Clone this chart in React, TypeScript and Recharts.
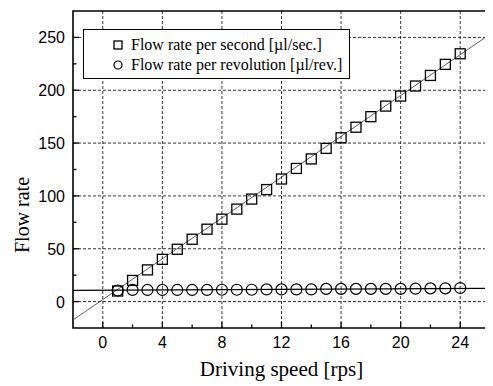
import React from 'react';
import { ScatterChart, Scatter, XAxis, YAxis, CartesianGrid, ReferenceArea } from 'recharts';

const speeds = [1, 2, 3, 4, 5, 6, 7, 8, 9, 10, 11, 12, 13, 14, 15, 16, 17, 18, 19, 20, 21, 22, 23, 24];
const flowPerSecond = [10, 20, 30, 40, 49.5, 59, 68.5, 78, 87.5, 97, 106, 116, 126, 135, 145, 155, 165, 175, 185, 194.5, 204, 214, 224.5, 234.5];
const flowPerRev = [10.5, 11, 11, 11, 11, 11, 11, 11.2, 11.2, 11.2, 11.5, 11.5, 11.5, 11.5, 12, 12, 12, 12, 12, 12, 12.2, 12.5, 12.5, 12.8];
const secFit = [{ x: -2, y: -17.4 }, { x: 26, y: 253 }];
const revFit = [{ x: -2, y: 10.7 }, { x: 26, y: 12.6 }];
const xTicks = [0, 2, 4, 6, 8, 10, 12, 14, 16, 18, 20, 22, 24];
const xLabelTicks = [0, 4, 8, 12, 16, 20, 24];
const yTicks = [0, 25, 50, 75, 100, 125, 150, 175, 200, 225, 250];
const yLabelTicks = [0, 50, 100, 150, 200, 250];
const xDomain = [-2, 26];
const yDomain = [-25, 275];
const legendLabels = ['Flow rate per second [\u00b5l/sec.]', 'Flow rate per revolution [\u00b5l/rev.]'];
const xTitle = 'Driving speed [rps]';
const yTitle = 'Flow rate';

const secData = speeds.map((s, i) => ({ x: s, y: flowPerSecond[i] }));
const revData = speeds.map((s, i) => ({ x: s, y: flowPerRev[i] }));

const SERIF = '"Liberation Serif", "Times New Roman", serif';
const SANS = '"Liberation Sans", Arial, sans-serif';

const XTick = (props: any) => {
  const { x, y, payload } = props;
  const major = xLabelTicks.includes(payload.value);
  return (
    <g>
      <line x1={x} y1={y} x2={x} y2={y - (major ? 6 : 3.5)} stroke="#000" strokeWidth={1.3} />
      {major && (
        <text x={x} y={y + 20} textAnchor="middle" fontFamily={SANS} fontSize={16} fill="#000">
          {payload.value}
        </text>
      )}
    </g>
  );
};

const YTick = (props: any) => {
  const { x, y, payload } = props;
  const major = yLabelTicks.includes(payload.value);
  return (
    <g>
      <line x1={x} y1={y} x2={x + (major ? 6 : 3.5)} y2={y} stroke="#000" strokeWidth={1.3} />
      {major && (
        <text x={x - 8} y={y + 6} textAnchor="end" fontFamily={SANS} fontSize={16} fill="#000">
          {payload.value}
        </text>
      )}
    </g>
  );
};

const SquareShape = (props: any) => {
  const { cx, cy } = props;
  if (cx == null || cy == null) return <g />;
  return <rect x={cx - 5} y={cy - 5} width={10} height={10} fill="none" stroke="#000" strokeWidth={1.3} />;
};

const CircleShape = (props: any) => {
  const { cx, cy } = props;
  if (cx == null || cy == null) return <g />;
  return <circle cx={cx} cy={cy} r={5.5} fill="none" stroke="#000" strokeWidth={1.2} />;
};

const NoShape = () => <g />;

const YTitle = (props: any) => {
  const vb = props.viewBox || { x: 0, y: 0 };
  const cx = vb.x + 14;
  const cy = vb.y + 204;
  return (
    <text transform={`translate(${cx},${cy}) rotate(-90)`} textAnchor="middle" dominantBaseline="central" fontFamily={SERIF} fontSize={20} fill="#000">
      {yTitle}
    </text>
  );
};

export default function App() {
  return (
    <div style={{ position: 'relative', width: 485, height: 378 }}>
      <ScatterChart width={485} height={378} margin={{ top: 3, right: 3, left: 0, bottom: 0 }}>
        <CartesianGrid
          stroke="#000"
          strokeWidth={0.8}
          strokeDasharray="3 2"
          horizontalValues={yLabelTicks}
          verticalValues={xLabelTicks}
        />
        <XAxis
          type="number"
          dataKey="x"
          domain={xDomain}
          ticks={xTicks}
          interval={0}
          allowDataOverflow
          height={58}
          tickSize={0}
          tickMargin={0}
          tickLine={false}
          axisLine={false}
          tick={<XTick />}
          label={{ value: xTitle, position: 'insideBottom', offset: 10, style: { fontFamily: SERIF, fontSize: 21, fill: '#000' } }}
        />
        <YAxis
          type="number"
          dataKey="y"
          domain={yDomain}
          ticks={yTicks}
          interval={0}
          allowDataOverflow
          width={65}
          tickSize={0}
          tickMargin={0}
          tickLine={false}
          axisLine={false}
          tick={<YTick />}
          label={{ content: <YTitle /> }}
        />
        <ReferenceArea x1={xDomain[0]} x2={xDomain[1]} y1={yDomain[0]} y2={yDomain[1]} fill="none" fillOpacity={0} stroke="#000" strokeWidth={1.6} ifOverflow="visible" />
        <Scatter data={secFit} shape={<NoShape />} line={{ stroke: '#333', strokeWidth: 0.8 }} isAnimationActive={false} />
        <Scatter data={revFit} shape={<NoShape />} line={{ stroke: '#000', strokeWidth: 1.2 }} isAnimationActive={false} />
        <Scatter data={secData} shape={<SquareShape />} isAnimationActive={false} />
        <Scatter data={revData} shape={<CircleShape />} isAnimationActive={false} />
      </ScatterChart>
      <div
        style={{
          position: 'absolute',
          left: 75,
          top: 21,
          width: 267,
          height: 50,
          boxSizing: 'border-box',
          border: '1.5px solid #000',
          background: '#fff',
          fontFamily: SERIF,
          fontSize: 16,
          color: '#000',
        }}
      >
        {legendLabels.map((lab, i) => (
          <div key={lab} style={{ position: 'absolute', left: 0, top: 5 + i * 20, height: 20, width: 260, display: 'flex', alignItems: 'center' }}>
            <svg width={20} height={20} style={{ position: 'absolute', left: 24 }}>
              {i === 0 ? (
                <rect x={6} y={6} width={8} height={8} fill="none" stroke="#000" strokeWidth={1.3} />
              ) : (
                <circle cx={10} cy={10} r={4} fill="none" stroke="#000" strokeWidth={1.2} />
              )}
            </svg>
            <span style={{ position: 'absolute', left: 47, lineHeight: '20px', whiteSpace: 'nowrap' }}>{lab}</span>
          </div>
        ))}
      </div>
    </div>
  );
}
